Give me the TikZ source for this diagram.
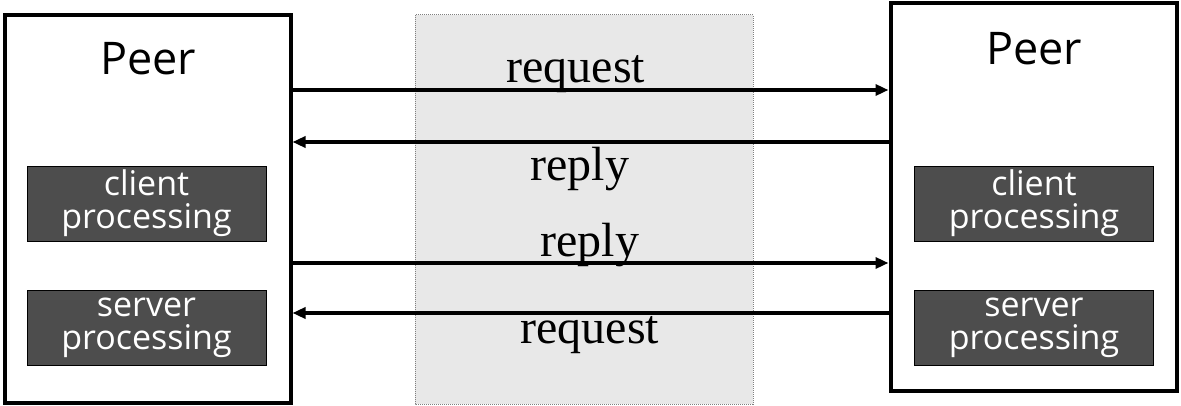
\documentclass[tikz,border=0pt]{standalone}
\usepackage{fontspec}
\setmainfont{Liberation Serif}
\setsansfont{Open Sans}
\usetikzlibrary{arrows.meta}
\definecolor{procgray}{HTML}{4D4D4D}
\definecolor{midgray}{HTML}{E8E8E8}
\begin{document}
\begin{tikzpicture}[x=1pt,y=-1pt,
  peer/.style={draw,line width=4pt,minimum width=286pt,minimum height=387pt,inner sep=0pt},
  proc/.style={draw,fill=procgray,text=white,minimum width=239pt,minimum height=75pt,inner sep=0pt,align=center,font=\fontsize{34}{33}\sffamily},
  title/.style={anchor=base,inner sep=0pt,font=\fontsize{45}{45}\sffamily},
  msg/.style={line width=4pt,-{Triangle[length=13pt,width=11pt]}},
  lbl/.style={anchor=base,inner sep=0pt,font=\fontsize{48}{48}\rmfamily}]
\useasboundingbox (0,0) rectangle (1181,406);
% network in the middle
\fill[midgray] (415,15) rectangle (753,404);
\draw[gray,densely dotted,line width=1pt] (415,15) rectangle (753,404);
% the two peers
\node[peer] (peerL) at (147.5,209) {};
\node[peer] (peerR) at (1033.5,197) {};
\node[title] (peerLt) at (148,75) {Peer};
\node[title] (peerRt) at (1034,65) {Peer};
\node[proc] (cliL) at (146.5,203.5) {client\\processing};
\node[proc] (srvL) at (146.5,328) {server\\processing};
\node[proc] (cliR) at (1034,203.5) {client\\processing};
\node[proc] (srvR) at (1034,328) {server\\processing};
% messages
\draw[msg] (peerL.east |- 0,90) -- (peerR.west |- 0,90);
\draw[msg] (peerR.west |- 0,142) -- (peerL.east |- 0,142);
\draw[msg] (peerL.east |- 0,263) -- (peerR.west |- 0,263);
\draw[msg] (peerR.west |- 0,313) -- (peerL.east |- 0,313);
\node[lbl] (req1) at (576,83) {request};
\node[lbl] (rep1) at (580,181) {reply};
\node[lbl] (rep2) at (590,257) {reply};
\node[lbl] (req2) at (590,343) {request};
\end{tikzpicture}
\end{document}
